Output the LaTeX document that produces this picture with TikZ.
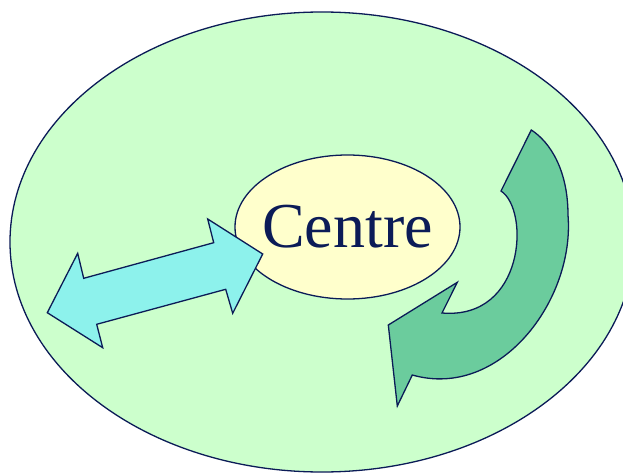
\documentclass[tikz,border=0pt]{standalone}
\usepackage{fontspec}
\setmainfont{Liberation Serif}
\usetikzlibrary{shapes.geometric}
\definecolor{navy}{RGB}{11,27,87}
\definecolor{outerfill}{RGB}{204,255,204}
\definecolor{centrefill}{RGB}{255,255,204}
\definecolor{cyanfill}{RGB}{141,242,236}
\definecolor{greenfill}{RGB}{107,204,157}
\tikzset{
  outline/.style={draw=navy, line width=1.3pt, line join=miter},
  bigell/.style={outline, ellipse, fill=outerfill, minimum width=624pt, minimum height=460pt, inner sep=0pt},
  centreell/.style={outline, ellipse, fill=centrefill, minimum width=225pt, minimum height=144pt, inner sep=0pt},
  centretext/.style={text=navy, inner sep=0pt, font=\fontsize{64pt}{64pt}\selectfont},
}
\begin{document}
\begin{tikzpicture}[x=1pt,y=-1pt]
\useasboundingbox (0,0) rectangle (623,473);
\clip (0,0) rectangle (623,473);
\fill[white] (0,0) rectangle (623,473);
\node[bigell] (outer) at (322,242) {};
\node[centreell] (centre) at (347.5,227) {};
\node[centretext] (centrelabel) at (centre.center) {Centre};
% cyan double arrow
\draw[outline, fill=cyanfill]
  (47.3,312.7) -- (77.7,253.3) -- (83.7,278.3) -- (213.7,242.7) -- (207.7,219)
  -- (262.7,254) -- (232.7,313.3) -- (225.7,289.3) -- (96.7,324.3) -- (102.7,347.7) -- cycle;
% green curved arrow
\draw[outline, fill=greenfill]
  (531.3,130) -- (501,191)
  .. controls (530,210) and (525,320) .. (442,313)
  -- (457.3,282.3) -- (388.3,325) -- (397.3,406) -- (412.3,375)
  .. controls (500,400) and (575,300) .. (568,215)
  .. controls (568,170) and (550,142) .. cycle;
\end{tikzpicture}
\end{document}
